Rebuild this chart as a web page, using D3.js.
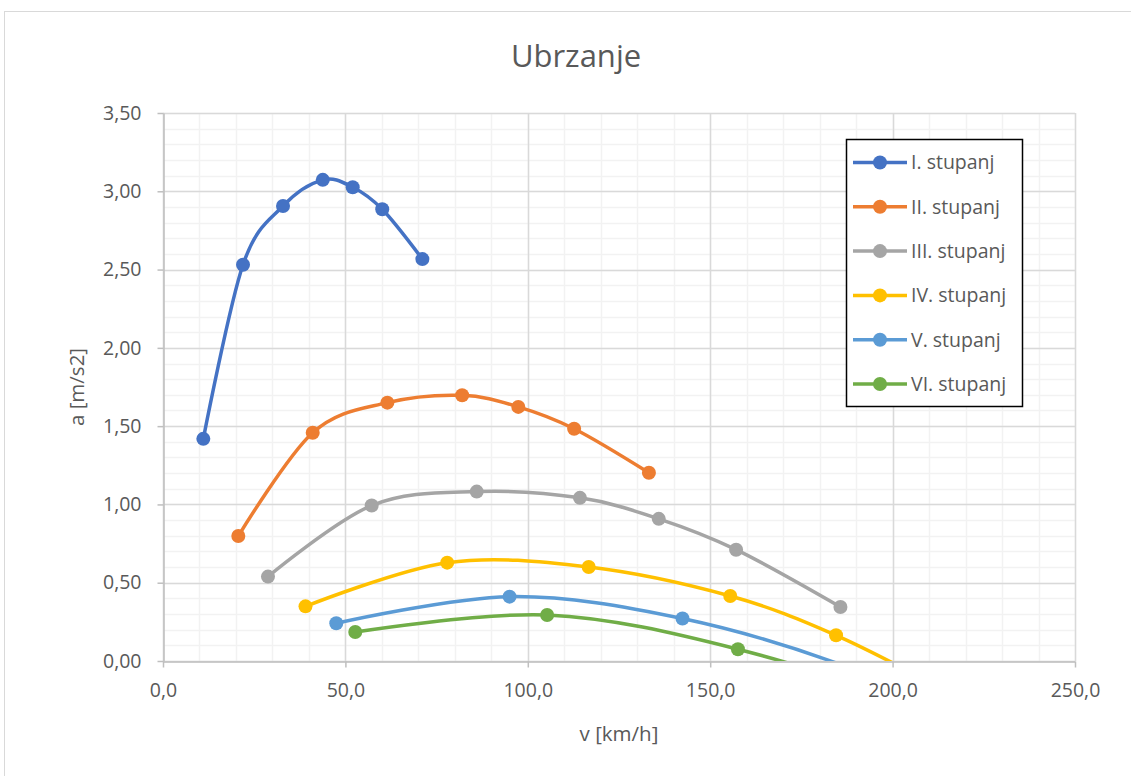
<!DOCTYPE html>
<html>
<head>
<meta charset="utf-8">
<script src="https://cdn.jsdelivr.net/npm/d3@7"></script>
<style>
  body { margin: 0; background: #fff; }
  #chart { width: 1131px; height: 776px; }
  text { font-family: "Open Sans", Lato, sans-serif; fill: #595959; }
</style>
</head>
<body>
<div id="chart"></div>
<script>
// data
var seriesNames = ["I. stupanj", "II. stupanj", "III. stupanj", "IV. stupanj", "V. stupanj", "VI. stupanj"];
var seriesColors = ["#4472C4", "#ED7D31", "#A5A5A5", "#FFC000", "#5B9BD5", "#70AD47"];

var vI = [11.05, 21.93, 32.9, 43.8, 52.0, 60.1, 71.1];
var aI = [1.419, 2.531, 2.906, 3.073, 3.026, 2.885, 2.567];
var vII = [20.64, 41.04, 61.5, 82.0, 97.4, 112.7, 133.2];
var aII = [0.798, 1.458, 1.650, 1.697, 1.623, 1.483, 1.202];
var vIII = [28.78, 57.2, 86.0, 114.3, 135.9, 157.1, 185.7];
var aIII = [0.539, 0.993, 1.082, 1.042, 0.908, 0.711, 0.345];
var vIV = [39.06, 77.9, 116.7, 155.5, 184.5, 213.7, 252.7];
var aIV = [0.349, 0.628, 0.600, 0.415, 0.164, -0.18, -0.68];
var vV = [47.5, 95.0, 142.4, 190.0, 224.7, 259.8, 307.3];
var aV = [0.241, 0.411, 0.271, -0.06, -0.46, -0.95, -1.8];
var vVI = [52.7, 105.3, 157.6, 210.6, 249.2, 288.2, 340.7];
var aVI = [0.185, 0.294, 0.075, -0.33, -0.8, -1.35, -2.2];

var xTicks = [0, 50, 100, 150, 200, 250];
var yTicks = [0, 0.5, 1, 1.5, 2, 2.5, 3, 3.5];

var allV = [vI, vII, vIII, vIV, vV, vVI];
var allA = [aI, aII, aIII, aIV, aV, aVI];

// SVG
var width = 1131, height = 776;
var margin = {left: 163, top: 113, right: 56, bottom: 115};
var plotW = width - margin.left - margin.right;
var plotH = height - margin.top - margin.bottom;

var svg = d3.select("#chart").append("svg")
    .attr("width", width)
    .attr("height", height);

// chart border
svg.append("rect")
    .attr("x", 4.5).attr("y", 11.5)
    .attr("width", 1140).attr("height", 790)
    .attr("fill", "none").attr("stroke", "#D9D9D9").attr("stroke-width", 1);

var x = d3.scaleLinear().domain([0, 250]).range([0, plotW]);
var y = d3.scaleLinear().domain([0, 3.5]).range([plotH, 0]);

var comma = function (s) { return s.replace(".", ","); };

var g = svg.append("g").attr("transform", "translate(" + margin.left + "," + margin.top + ")");

// minor grid
g.append("g").selectAll("line")
    .data(d3.range(0, 250.01, 10))
    .enter().append("line")
    .attr("x1", d => Math.round(x(d)) + 0.5).attr("x2", d => Math.round(x(d)) + 0.5)
    .attr("y1", 0).attr("y2", plotH)
    .attr("stroke", "#F2F2F2").attr("stroke-width", 1.5);
g.append("g").selectAll("line")
    .data(d3.range(0, 35.01, 1).map(d => d / 10))
    .enter().append("line")
    .attr("y1", d => Math.round(y(d)) + 0.5).attr("y2", d => Math.round(y(d)) + 0.5)
    .attr("x1", 0).attr("x2", plotW)
    .attr("stroke", "#F2F2F2").attr("stroke-width", 1.5);

// major grid
g.append("g").selectAll("line")
    .data(xTicks)
    .enter().append("line")
    .attr("x1", d => Math.round(x(d)) + 0.5).attr("x2", d => Math.round(x(d)) + 0.5)
    .attr("y1", 0).attr("y2", plotH)
    .attr("stroke", "#D9D9D9").attr("stroke-width", 1.5);
g.append("g").selectAll("line")
    .data(yTicks)
    .enter().append("line")
    .attr("y1", d => Math.round(y(d)) + 0.5).attr("y2", d => Math.round(y(d)) + 0.5)
    .attr("x1", 0).attr("x2", plotW)
    .attr("stroke", "#D9D9D9").attr("stroke-width", 1.5);

// axes
var xAxis = g.append("g")
    .attr("transform", "translate(0," + (plotH + 0.5) + ")")
    .call(d3.axisBottom(x).tickValues(xTicks).tickSize(6).tickSizeOuter(0)
        .tickFormat(d => comma(d3.format(".1f")(d))));
var yAxis = g.append("g")
    .attr("transform", "translate(0.5,0)")
    .call(d3.axisLeft(y).tickValues(yTicks).tickSize(6).tickSizeOuter(0)
        .tickFormat(d => comma(d3.format(".2f")(d))));

[xAxis, yAxis].forEach(function (ax) {
    ax.select(".domain").attr("stroke", "#BFBFBF").attr("stroke-width", 1.5);
    ax.selectAll(".tick line").attr("stroke", "#BFBFBF").attr("stroke-width", 1.5);
    ax.selectAll(".tick text")
        .style("font-family", "'Open Sans', Lato, sans-serif")
        .style("font-size", "19.5px")
        .attr("fill", "#595959");
});
xAxis.selectAll(".tick text").attr("dy", "1.1em").attr("y", 14);
yAxis.selectAll(".tick text").attr("x", -22);

// series lines
svg.append("clipPath").attr("id", "plotClip")
    .append("rect").attr("x", 0).attr("y", -10).attr("width", plotW).attr("height", plotH + 10);

var line = d3.line()
    .x(d => x(d[0]))
    .y(d => y(d[1]))
    .curve(d3.curveCardinal.tension(0));

var seriesG = g.append("g").attr("clip-path", "url(#plotClip)");

allV.forEach(function (vs, i) {
    var pts = vs.map(function (v, j) { return [v, allA[i][j]]; });
    seriesG.append("path")
        .datum(pts)
        .attr("d", line)
        .attr("fill", "none")
        .attr("stroke", seriesColors[i])
        .attr("stroke-width", 3.5)
        .attr("stroke-linecap", "round");
    seriesG.selectAll(".pt" + i)
        .data(pts.filter(p => p[1] >= 0 && p[0] <= 250))
        .enter().append("circle")
        .attr("class", "pt" + i)
        .attr("cx", d => x(d[0]))
        .attr("cy", d => y(d[1]))
        .attr("r", 7)
        .attr("fill", seriesColors[i]);
});

// title
svg.append("text")
    .attr("x", 576).attr("y", 67)
    .attr("text-anchor", "middle")
    .style("font-size", "31px")
    .text("Ubrzanje");

// axis titles
svg.append("text")
    .attr("x", margin.left + plotW / 2).attr("y", 741)
    .attr("text-anchor", "middle")
    .style("font-size", "20.5px")
    .text("v [km/h]");
svg.append("text")
    .attr("transform", "translate(84," + (margin.top + plotH / 2) + ") rotate(-90)")
    .attr("text-anchor", "middle")
    .style("font-size", "20.5px")
    .text("a [m/s2]");

// legend
var legend = svg.append("g").attr("transform", "translate(846,139)");
legend.append("rect")
    .attr("x", 0.5).attr("y", 0.5)
    .attr("width", 176).attr("height", 267)
    .attr("fill", "#fff").attr("stroke", "#000").attr("stroke-width", 1.5);

var legendItem = legend.selectAll(".legendItem")
    .data(seriesNames)
    .enter().append("g")
    .attr("class", "legendItem")
    .attr("transform", (d, i) => "translate(0," + (23.5 + i * 44.3) + ")");
legendItem.append("line")
    .attr("x1", 7).attr("x2", 61)
    .attr("stroke", (d, i) => seriesColors[i]).attr("stroke-width", 3.5);
legendItem.append("circle")
    .attr("cx", 34).attr("r", 7)
    .attr("fill", (d, i) => seriesColors[i]);
legendItem.append("text")
    .attr("x", 65).attr("dy", "0.35em")
    .style("font-size", "19.5px")
    .text(d => d);
</script>
</body>
</html>
